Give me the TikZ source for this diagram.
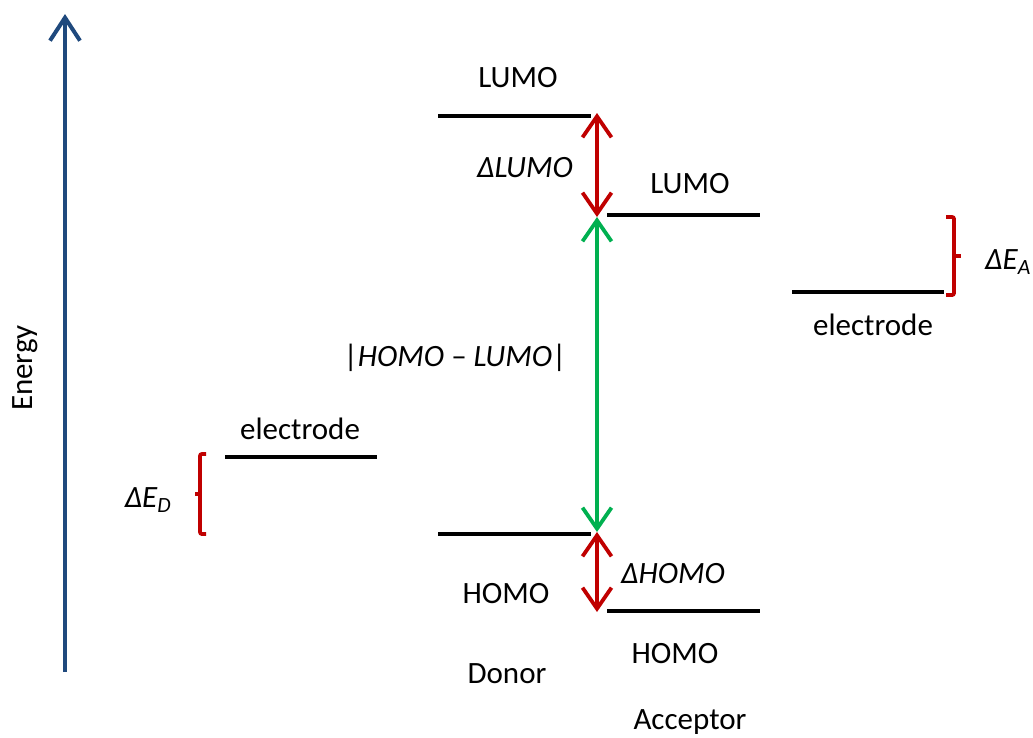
\documentclass[tikz,border=0pt]{standalone}
\usepackage{fontspec}
\setmainfont{Carlito}
\usetikzlibrary{arrows.meta}
\definecolor{axisblue}{RGB}{31,73,125}
\definecolor{darkred}{RGB}{192,0,0}
\definecolor{dgreen}{RGB}{0,176,80}
\begin{document}
\begin{tikzpicture}[x=1pt,y=-1pt,
  lbl/.style={font=\fontsize{31}{37}\selectfont, inner sep=0pt},
  ilbl/.style={font=\fontsize{31}{37}\selectfont\itshape, inner sep=0pt},
  level/.style={line width=4pt, black},
  gap/.style={line width=3.8pt, {Straight Barb[length=21pt,width=29pt]}-{Straight Barb[length=21pt,width=29pt]}},
  brace/.style={line width=3.8pt, darkred, rounded corners=2pt}]
\useasboundingbox (0,0) rectangle (1033,737);
% energy axis
\coordinate (ebot) at (65,672);
\coordinate (etop) at (65,14);
\draw[axisblue, line width=4pt, -{Straight Barb[length=23pt,width=30pt]}] (ebot) -- (etop);
\node[lbl, rotate=90] (energy) at (25,368) {Energy};
% levels
\draw[level] (438,116) coordinate (dlL) -- (591,116) coordinate (dlR);
\node[lbl] (dlumo) at (518,78) {LUMO};
\draw[level] (607,215) coordinate (alL) -- (760,215) coordinate (alR);
\node[lbl] (alumo) at (690,184) {LUMO};
\draw[level] (792,292) coordinate (reL) -- (944,292) coordinate (reR);
\node[lbl] (relbl) at (873,325) {electrode};
\draw[level] (225,457) coordinate (leL) -- (377,457) coordinate (leR);
\node[lbl] (lelbl) at (300,429) {electrode};
\draw[level] (438,534) coordinate (dhL) -- (591,534) coordinate (dhR);
\node[lbl] (dhomo) at (506,594) {HOMO};
\draw[level] (607,611) coordinate (ahL) -- (760,611) coordinate (ahR);
\node[lbl] (ahomo) at (675,654) {HOMO};
\node[lbl] (donor) at (507,674) {Donor};
\node[lbl] (acceptor) at (690,722) {Acceptor};
% gap arrows
\coordinate (g1) at (597,113);
\coordinate (g2) at (597,217);
\coordinate (g3) at (597,532);
\coordinate (g4) at (597,612);
\draw[gap, darkred] (g1) -- (g2);
\draw[gap, dgreen] (g2) -- (g3);
\draw[gap, darkred] (g3) -- (g4);
\node[ilbl] (dlumolbl) at (525,168) {ΔLUMO};
\node[lbl] (hl) at (455,358) {|\textit{HOMO} – \textit{LUMO}|};
\node[ilbl] (dhomolbl) at (673,574) {ΔHOMO};
% braces
\draw[brace] (946,217) -- (954,217) -- (954,295) -- (946,295);
\draw[brace, rounded corners=0pt] (954,256) -- (961,256);
\node[ilbl, anchor=west] (dea) at (985,262) {ΔE\textsubscript{A}};
\draw[brace] (206,454) -- (200,454) -- (200,534) -- (206,534);
\draw[brace, rounded corners=0pt] (200,494) -- (195,494);
\node[ilbl] (ded) at (148,500) {ΔE\textsubscript{D}};
\end{tikzpicture}
\end{document}
